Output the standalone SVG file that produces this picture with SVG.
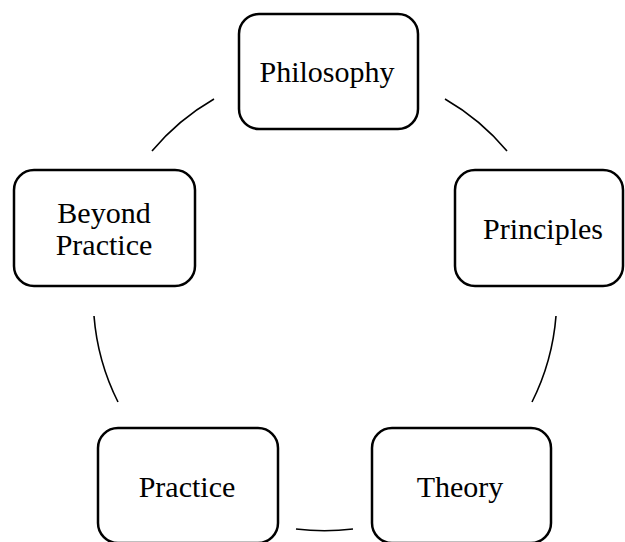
<svg xmlns="http://www.w3.org/2000/svg" width="625" height="542" viewBox="0 0 625 542">
<style>
.box{fill:#fff;stroke:#000;stroke-width:2.5}
.lbl{font-family:"Liberation Serif","Times New Roman",serif;font-size:30px;fill:#000;text-anchor:middle}
.arc{fill:none;stroke:#000;stroke-width:1.6}
</style>
<rect width="625" height="542" fill="#fff"/>
<g id="connectors">
<path class="arc" d="M152,151 A232,232 0 0 1 214,99"/>
<path class="arc" d="M445,99 A232,232 0 0 1 507,151"/>
<path class="arc" d="M556,316 A232,232 0 0 1 532,402"/>
<path class="arc" d="M353,529 A232,232 0 0 1 296,529"/>
<path class="arc" d="M118,402 A232,232 0 0 1 94,316"/>
</g>
<g id="philosophy">
<rect class="box" x="239" y="14" width="179" height="115" rx="20"/>
<text class="lbl" x="327" y="82">Philosophy</text>
</g>
<g id="principles">
<rect class="box" x="455" y="170" width="168" height="116" rx="20"/>
<text class="lbl" x="543" y="239">Principles</text>
</g>
<g id="theory">
<rect class="box" x="372" y="428" width="179" height="115" rx="20"/>
<text class="lbl" x="460" y="497">Theory</text>
</g>
<g id="practice">
<rect class="box" x="98" y="428" width="180" height="115" rx="20"/>
<text class="lbl" x="187" y="497">Practice</text>
</g>
<g id="beyond-practice">
<rect class="box" x="14" y="170" width="181" height="116" rx="20"/>
<text class="lbl" x="104" y="223">Beyond</text>
<text class="lbl" x="104" y="255">Practice</text>
</g>
</svg>
